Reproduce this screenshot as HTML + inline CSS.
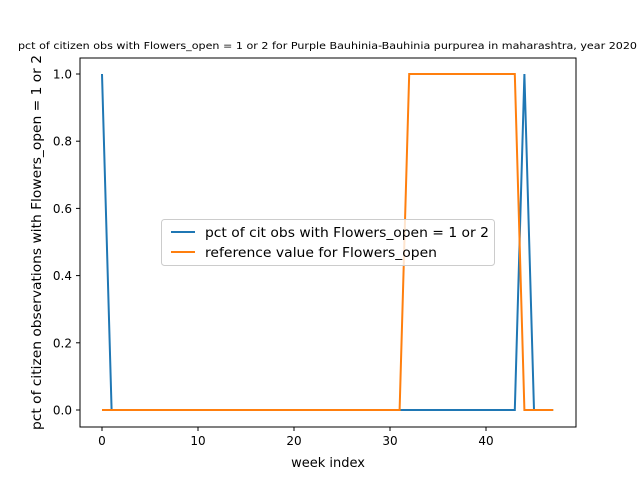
<!DOCTYPE html>
<html><head><meta charset="utf-8"><style>
body{margin:0;background:#fff}
svg{font-family:"DejaVu Sans","Liberation Sans",sans-serif}
</style></head><body>
<svg width="640" height="480" viewBox="0 0 640 480">
<rect width="640" height="480" fill="#fff"/>
<text x="18" y="49" font-size="9.5" textLength="619" lengthAdjust="spacingAndGlyphs">pct of citizen obs with Flowers_open = 1 or 2 for Purple Bauhinia-Bauhinia purpurea in maharashtra, year 2020</text>
<g id="plot"></g>
<rect x="80" y="58" width="496" height="369" fill="none" stroke="#000" stroke-width="1"/>
<g id="xt"></g><g id="yt"></g>
<text x="328" y="467" font-size="13" text-anchor="middle">week index</text>
<text transform="translate(41,430) rotate(-90)" font-size="13" textLength="375" lengthAdjust="spacingAndGlyphs">pct of citizen observations with Flowers_open = 1 or 2</text>
<g>
<rect x="161.5" y="219.5" width="333" height="46" rx="3" fill="#fff" fill-opacity="0.8" stroke="#ccc"/>
<line x1="171" y1="232" x2="195" y2="232" stroke="#1f77b4" stroke-width="2"/>
<text x="205" y="237" font-size="13" textLength="284" lengthAdjust="spacingAndGlyphs">pct of cit obs with Flowers_open = 1 or 2</text>
<line x1="171" y1="252" x2="195" y2="252" stroke="#ff7f0e" stroke-width="2"/>
<text x="205" y="257" font-size="13" textLength="232" lengthAdjust="spacingAndGlyphs">reference value for Flowers_open</text>
</g>
</svg>
<script>
const weeks = Array.from({length:48},(_,i)=>i);
const citizenValues = [1,0,0,0,0,0,0,0,0,0,0,0,0,0,0,0,0,0,0,0,0,0,0,0,0,0,0,0,0,0,0,0,0,0,0,0,0,0,0,0,0,0,0,0,1,0,0,0];
const referenceValues = [0,0,0,0,0,0,0,0,0,0,0,0,0,0,0,0,0,0,0,0,0,0,0,0,0,0,0,0,0,0,0,0,1,1,1,1,1,1,1,1,1,1,1,1,0,0,0,0];
const xTicks = [0,10,20,30,40];
const yTicks = [0,0.2,0.4,0.6,0.8,1.0];
const yTickLabels = ["0.0","0.2","0.4","0.6","0.8","1.0"];
const NS="http://www.w3.org/2000/svg";
const xS=v=>102+v*9.6, yS=v=>410-v*336;
function path(vals,color,name){
  const p=document.createElementNS(NS,'polyline');
  p.setAttribute('points',vals.map((v,i)=>xS(weeks[i])+','+yS(v)).join(' '));
  p.setAttribute('fill','none');p.setAttribute('stroke',color);p.setAttribute('stroke-width','2');
  
  
  document.getElementById('plot').appendChild(p);
}
path(citizenValues,'#1f77b4','citizen-line');
path(referenceValues,'#ff7f0e','reference-line');
const xt=document.getElementById('xt');
xTicks.forEach(t=>{
  const g=document.createElementNS(NS,'g');
  
  
  g.innerHTML=`<line x1="${xS(t)}" y1="427" x2="${xS(t)}" y2="431" stroke="#000"/><text x="${xS(t)}" y="445" font-size="12" text-anchor="middle">${t}</text>`;
  xt.appendChild(g);
});
const yt=document.getElementById('yt');
yTicks.forEach((t,i)=>{
  const g=document.createElementNS(NS,'g');
  
  
  g.innerHTML=`<line x1="76" y1="${yS(t)}" x2="80" y2="${yS(t)}" stroke="#000"/><text x="72" y="${yS(t)+4.5}" font-size="12" text-anchor="end">${yTickLabels[i]}</text>`;
  yt.appendChild(g);
});
</script>
</body></html>
